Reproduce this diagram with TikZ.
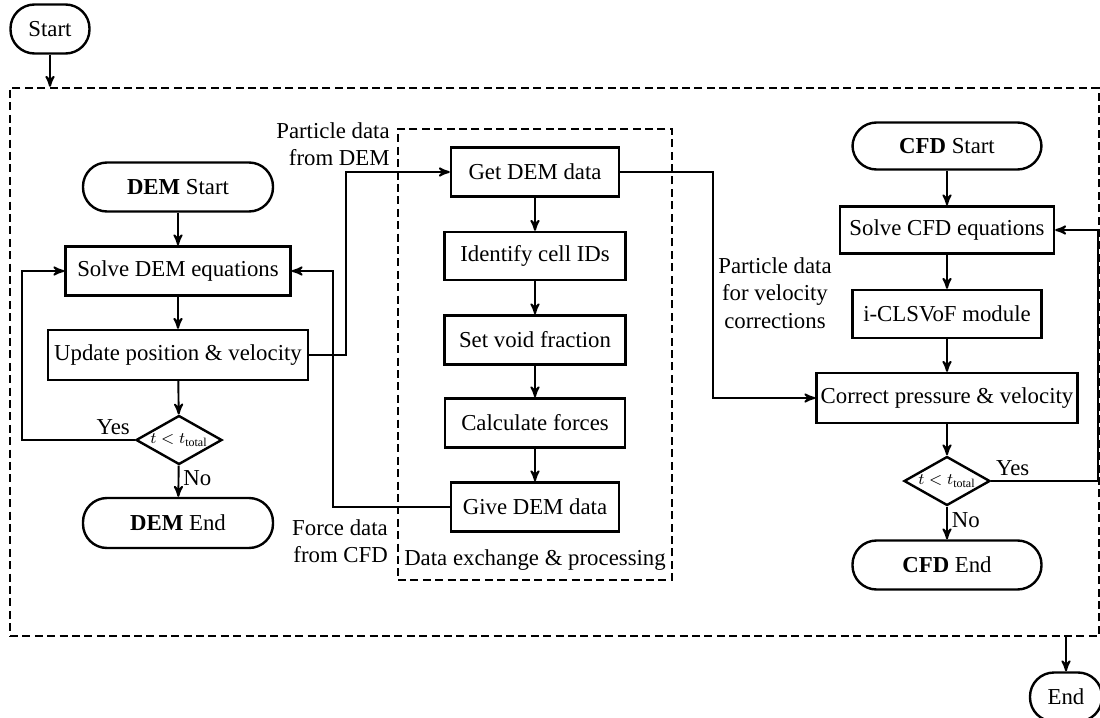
\documentclass[tikz,border=0pt]{standalone}
\usepackage{amsmath}
\usepackage{fontspec}
\setmainfont{Liberation Serif}
\usepackage{tikz}
\usetikzlibrary{positioning,arrows,calc,shapes.geometric}
\tikzset{
    block/.style = {
        draw,
        shape=rectangle,
        minimum height=24.5pt,
        inner sep=0pt,
        line width=1.2pt
    },
    terminal/.style = {
        draw,
        shape=rectangle,
        rounded corners=12pt,
        minimum height=24.5pt,
        inner sep=0pt,
        line width=1.2pt
    },
    decision/.style = {
        draw,
        shape=diamond,
        aspect=1.75,
        minimum width=43pt,
        minimum height=24.5pt,
        inner sep=0.5pt,
        line width=1.2pt,
        font=\fontsize{8}{9}\selectfont
    },
    frame/.style = {
        draw,
        shape=rectangle,
        dash pattern=on 4pt off 2.2pt,
        line width=1.2pt,
        inner sep=0pt
    },
    note/.style = {
        shape=rectangle,
        inner sep=0pt
    },
    flow/.style = {
        line width=0.95pt
    },
    >=stealth',
}

\begin{document}
\begin{tikzpicture}[x=0.5pt,y=-0.5pt,font=\fontsize{11.4}{13.6}\selectfont]
    \useasboundingbox (0,0) rectangle (1100,718);

    % outer frame and the exchange frame
    \node[frame, minimum width=544.5pt, minimum height=274pt] (outer) at (554.5,362) {};
    \node[frame, minimum width=137pt, minimum height=225.5pt] (exch) at (535,354.5) {};
    \node[note] (exchlbl) at (535,560) {Data exchange \& processing};

    \node[terminal, minimum width=39.5pt] (start) at (50,29) {Start};
    \node[terminal, minimum width=36pt] (end) at (1066,697) {End};

    % DEM side
    \node[terminal, minimum width=95pt] (dstart) at (178,187) {\textbf{DEM} Start};
    \node[block, minimum width=112.5pt] (dsolve) at (178,271) {Solve DEM equations};
    \node[block, minimum width=130pt, minimum height=25pt] (dupdate) at (178,355) {Update position \& velocity};
    \node[decision] (dcheck) at (179,440) {$t < t_{\text{total}}$};
    \node[terminal, minimum width=95pt, minimum height=25pt] (dend) at (178,523) {\textbf{DEM} End};

    % data exchange
    \node[block, minimum width=84pt] (getdem) at (535,172) {Get DEM data};
    \node[block, minimum width=90.5pt, minimum height=24pt] (cellid) at (535,256) {Identify cell IDs};
    \node[block, minimum width=90.5pt] (voidfr) at (535,340) {Set void fraction};
    \node[block, minimum width=90pt] (forces) at (535,423) {Calculate forces};
    \node[block, minimum width=84pt] (givedem) at (535,507) {Give DEM data};

    % CFD side
    \node[terminal, minimum width=94.5pt, minimum height=23.5pt] (cstart) at (947,146) {\textbf{CFD} Start};
    \node[block, minimum width=107pt, minimum height=23.5pt] (csolve) at (947,230) {Solve CFD equations};
    \node[block, minimum width=94.5pt, minimum height=24pt] (module) at (947,314) {i-CLSVoF module};
    \node[block, minimum width=130.5pt, minimum height=25pt] (cpress) at (947,398) {Correct pressure \& velocity};
    \node[decision] (ccheck) at (947,481) {$t < t_{\text{total}}$};
    \node[terminal, minimum width=94.5pt] (cend) at (947,565) {\textbf{CFD} End};

    % labels on the exchange lines
    \node[note, align=right] (pdem) at (333,144) {Particle data\\from DEM};
    \node[note, align=right] (fcfd) at (340,541) {Force data\\from CFD};
    \node[note, align=center] (pvel) at (775,293) {Particle data\\for velocity\\corrections};

    \path[draw, flow, ->] (start) -- (start |- outer.north);
    \path[draw, flow, ->] (outer.south -| end) -- (end);

    \path[draw, flow, ->] (dstart) -- (dsolve);
    \path[draw, flow, ->] (dsolve) -- (dupdate);
    \path[draw, flow, ->] (dupdate) -- (dcheck);
    \path[draw, flow, ->] (dcheck) -- node[right, pos=0.4, inner sep=2pt] {No} (dend);
    \path[draw, flow, ->] (dcheck.west) node[above left, inner sep=2pt] {Yes} -- ++(-113,0) |- (dsolve.west);

    \path[draw, flow, ->] (dupdate.east) -- ++(37,0) |- (getdem.west);
    \path[draw, flow, ->] (givedem.west) -- ++(-117,0) |- (dsolve.east);

    \path[draw, flow, ->] (getdem) -- (cellid);
    \path[draw, flow, ->] (cellid) -- (voidfr);
    \path[draw, flow, ->] (voidfr) -- (forces);
    \path[draw, flow, ->] (forces) -- (givedem);

    \path[draw, flow, ->] (getdem.east) -- ++(93,0) |- (cpress.west);

    \path[draw, flow, ->] (cstart) -- (csolve);
    \path[draw, flow, ->] (csolve) -- (module);
    \path[draw, flow, ->] (module) -- (cpress);
    \path[draw, flow, ->] (cpress) -- (ccheck);
    \path[draw, flow, ->] (ccheck) -- node[right, pos=0.4, inner sep=2pt] {No} (cend);
    \path[draw, flow, ->] (ccheck.east) node[above right, inner sep=2pt] {Yes} -- ++(107,0) |- (csolve.east);
\end{tikzpicture}
\end{document}
